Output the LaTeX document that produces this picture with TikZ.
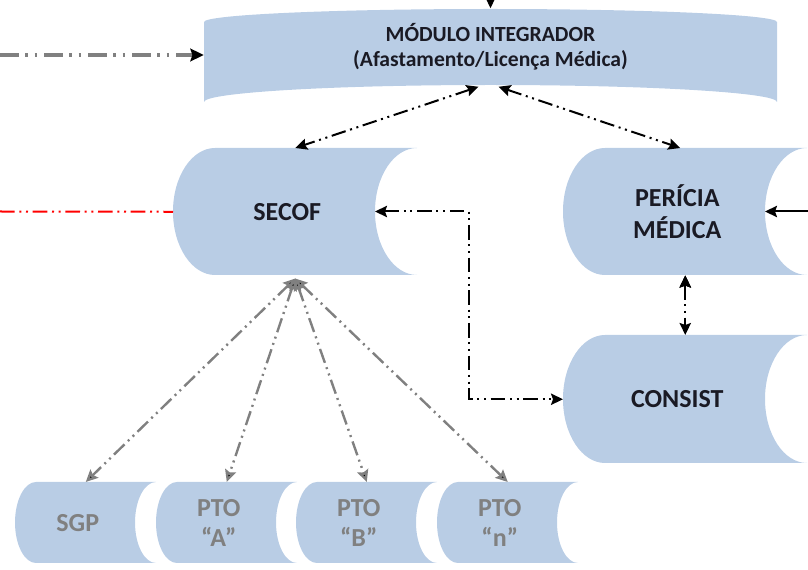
\documentclass[tikz,border=0pt]{standalone}
\usepackage{fontspec}
\setmainfont{Carlito}
\usetikzlibrary{arrows.meta}
\usetikzlibrary{calc}

\definecolor{drumfill}{HTML}{B9CDE5}
\definecolor{linkgray}{HTML}{808080}
\definecolor{inkdark}{HTML}{1A1A24}

\tikzset{
  ddot/.style={dash pattern=on 11pt off 3.5pt on 1.5pt off 3.5pt on 1.5pt off 3.5pt},
  wideddot/.style={dash pattern=on 14pt off 5pt on 2pt off 5pt on 2pt off 5pt},
  tip/.style={>={Stealth[length=9pt,width=8.5pt,inset=1.5pt]}},
  link/.style={draw=black,line width=1.5pt,ddot,tip},
  fan/.style={draw=linkgray,line width=1.8pt,ddot,tip},
  bigtext/.style={text=inkdark,align=center,font=\bfseries\fontsize{19.5}{23.5}\selectfont},
  smalltext/.style={text=linkgray,align=center,font=\bfseries\fontsize{19.5}{22.5}\selectfont},
}

% name, left x, top y, width, height, depth, text style, text
\newcommand{\sidedrum}[8]{%
  \pgfmathsetmacro\xa{#2}%
  \pgfmathsetmacro\xb{#2+#6}%
  \pgfmathsetmacro\xc{#2+#4}%
  \pgfmathsetmacro\xd{#2+#4-#6}%
  \pgfmathsetmacro\ya{#3}%
  \pgfmathsetmacro\yb{#3+#5/2}%
  \pgfmathsetmacro\yc{#3+#5}%
  \pgfmathsetmacro\kx{0.552*#6}%
  \pgfmathsetmacro\ky{0.276*#5}%
  \fill[drumfill] (\xb,\ya) -- (\xc,\ya)
    .. controls (\xc-\kx,\ya) and (\xd,\yb-\ky) .. (\xd,\yb)
    .. controls (\xd,\yb+\ky) and (\xc-\kx,\yc) .. (\xc,\yc)
    -- (\xb,\yc)
    .. controls (\xb-\kx,\yc) and (\xa,\yb+\ky) .. (\xa,\yb)
    .. controls (\xa,\yb-\ky) and (\xb-\kx,\ya) .. (\xb,\ya) -- cycle;
  \node [anchor=north west,inner sep=0pt,minimum width=#4*0.75pt,minimum height=#5*0.75pt] (#1) at (\xa,\ya) {};
  \coordinate (#1_hollow) at (\xd,\yb);
  \node [#7] (#1_text) at ($(#1.center)+(-8,0)$) {#8};
}

\begin{document}
\begin{tikzpicture}[x=0.75pt,y=-0.75pt]

  \useasboundingbox (0,0) rectangle (808,570);

  \fill[drumfill] (204,22) .. controls (204,14.8) and (332.3,9) .. (490.5,9)
    .. controls (648.7,9) and (777,14.8) .. (777,22) -- (777,102)
    .. controls (777,92.6) and (648.7,85) .. (490.5,85)
    .. controls (332.3,85) and (204,92.6) .. (204,102) -- cycle;
  \node [inner sep=0pt,minimum width=573*0.75pt,minimum height=76*0.75pt,align=center,text=inkdark,
    font=\bfseries\fontsize{16.2}{18.8}\selectfont] (modulo) at (490.5,46.5)
    {MÓDULO INTEGRADOR\\(Afastamento/Licença Médica)};

  \sidedrum{secof}{173}{148}{244}{127}{42}{bigtext}{SECOF}
  \sidedrum{pericia}{563}{148}{244}{127}{42}{bigtext}{PERÍCIA\\MÉDICA}
  \sidedrum{consist}{563}{335}{244}{128}{42}{bigtext}{CONSIST}

  \sidedrum{sgp}{15}{482}{141}{81}{21}{smalltext}{SGP}
  \sidedrum{pto_a}{156}{482}{141}{81}{21}{smalltext}{PTO\\“A”}
  \sidedrum{pto_b}{296}{482}{141}{81}{21}{smalltext}{PTO\\“B”}
  \sidedrum{pto_n}{437}{482}{141}{81}{21}{smalltext}{PTO\\“n”}

  \coordinate (to_top) at (490.5,-2);
  \coordinate (to_left) at (0,55);
  \coordinate (to_red) at (0,211.5);
  \coordinate (to_right) at (808,211.5);

  \draw [line width=1.5pt,tip,->] (to_top) -- (modulo.north);
  \draw [draw=linkgray,line width=2.3pt,wideddot,
    -{Stealth[length=10pt,width=9.5pt,inset=1.5pt,color=black]}] (to_left) -- (to_left -| modulo.west);
  \draw [draw=red,line width=1.5pt,ddot] (to_red) -- (secof.west);
  \draw [line width=1.5pt,tip,->] (to_right) -- (pericia_hollow);

  \path [link,<->]
    ($(modulo.south)+(-12,2)$) edge (secof.north)
    ($(modulo.south)+(8,2)$)   edge ($(pericia.north)+(-5,0)$)
    (pericia.south)            edge (consist.north);

  \draw [link,<->] (secof_hollow) -| ($(secof_hollow)!.5!(consist.west)$) |- (consist.west);

  \path [fan,<->]
    ($(secof.south)+(0,3)$) edge (sgp.north)
    ($(secof.south)+(0,3)$) edge (pto_a.north)
    ($(secof.south)+(0,3)$) edge (pto_b.north)
    ($(secof.south)+(0,3)$) edge (pto_n.north);

\end{tikzpicture}
\end{document}
